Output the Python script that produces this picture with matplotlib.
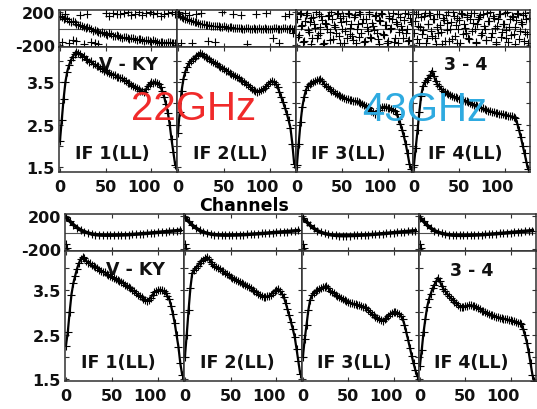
import matplotlib
matplotlib.use("Agg")
import matplotlib.pyplot as plt
import numpy as np
from matplotlib.transforms import ScaledTranslation

plt.rcParams['font.family'] = ['DejaVu Sans']

# ---------------- data ----------------
chan_amp = list(range(0, 128, 2))
chan_odd = list(range(1, 128, 2))
chan_ph = list(range(0, 128, 4))
chan_ph2 = list(range(2, 128, 4))

amp_top_if1 = [2.10, 2.60, 3.10, 3.50, 3.75, 3.90, 4.02, 4.10, 4.17, 4.22, 4.19, 4.16, 4.10, 4.12, 4.05, 4.03,
               3.98, 4.00, 3.93, 3.92, 3.88, 3.87, 3.83, 3.82, 3.77, 3.79, 3.74, 3.72, 3.70, 3.67, 3.68, 3.63,
               3.62, 3.60, 3.59, 3.55, 3.53, 3.49, 3.47, 3.44, 3.42, 3.39, 3.37, 3.33, 3.30, 3.28, 3.27, 3.33,
               3.40, 3.45, 3.50, 3.48, 3.51, 3.47, 3.45, 3.38, 3.28, 3.15, 2.98, 2.78, 2.50, 2.15, 1.85, 1.55]
amp_top_if2 = [2.30, 2.80, 3.30, 3.58, 3.75, 3.86, 3.95, 4.00, 4.05, 4.08, 4.12, 4.15, 4.19, 4.17, 4.12, 4.10,
               4.06, 4.04, 4.00, 3.98, 3.95, 3.92, 3.89, 3.86, 3.83, 3.80, 3.77, 3.76, 3.72, 3.70, 3.67, 3.65,
               3.62, 3.59, 3.56, 3.53, 3.50, 3.46, 3.43, 3.39, 3.35, 3.31, 3.28, 3.27, 3.29, 3.31, 3.33, 3.36,
               3.40, 3.45, 3.50, 3.53, 3.50, 3.46, 3.38, 3.27, 3.15, 3.03, 2.90, 2.76, 2.60, 2.42, 2.05, 1.58]
amp_top_if3 = [1.55, 2.05, 2.55, 2.92, 3.15, 3.32, 3.41, 3.45, 3.48, 3.50, 3.52, 3.54, 3.56, 3.58, 3.52, 3.46,
               3.41, 3.38, 3.34, 3.30, 3.28, 3.24, 3.22, 3.19, 3.17, 3.15, 3.12, 3.11, 3.10, 3.08, 3.08, 3.06,
               3.05, 3.05, 3.04, 3.01, 2.99, 2.96, 2.94, 2.92, 2.88, 2.83, 2.79, 2.76, 2.79, 2.84, 2.88, 2.91,
               2.92, 2.92, 2.90, 2.88, 2.87, 2.85, 2.83, 2.75, 2.64, 2.52, 2.38, 2.22, 2.04, 1.82, 1.58, 1.45]
amp_top_if4 = [1.55, 1.95, 2.36, 2.80, 3.18, 3.40, 3.50, 3.55, 3.60, 3.66, 3.77, 3.65, 3.52, 3.45, 3.40, 3.35,
               3.30, 3.27, 3.24, 3.21, 3.19, 3.18, 3.15, 3.14, 3.12, 3.11, 3.10, 3.08, 3.06, 3.05, 3.03, 3.01,
               2.99, 2.97, 2.95, 2.93, 2.91, 2.90, 2.88, 2.86, 2.84, 2.83, 2.81, 2.80, 2.79, 2.78, 2.77, 2.76,
               2.75, 2.74, 2.73, 2.72, 2.71, 2.70, 2.69, 2.68, 2.66, 2.52, 2.36, 2.20, 2.00, 1.82, 1.62, 1.45]

amp_bot_if1 = [2.25, 2.55, 3.00, 3.40, 3.65, 3.82, 3.98, 4.10, 4.20, 4.25, 4.22, 4.16, 4.12, 4.10, 4.06, 4.04,
               4.01, 4.00, 3.96, 3.94, 3.91, 3.90, 3.87, 3.84, 3.82, 3.80, 3.78, 3.75, 3.73, 3.70, 3.68, 3.66,
               3.62, 3.60, 3.57, 3.54, 3.50, 3.47, 3.43, 3.40, 3.37, 3.34, 3.31, 3.28, 3.26, 3.28, 3.33, 3.40,
               3.45, 3.48, 3.50, 3.51, 3.50, 3.47, 3.43, 3.37, 3.30, 3.15, 2.96, 2.75, 2.48, 2.22, 1.85, 1.60]
amp_bot_if2 = [2.00, 2.50, 3.05, 3.55, 3.88, 3.95, 4.00, 4.05, 4.10, 4.15, 4.18, 4.22, 4.25, 4.20, 4.14, 4.08,
               4.04, 4.02, 3.99, 3.97, 3.94, 3.92, 3.89, 3.86, 3.83, 3.80, 3.78, 3.76, 3.73, 3.71, 3.69, 3.67,
               3.64, 3.62, 3.60, 3.57, 3.54, 3.51, 3.48, 3.45, 3.42, 3.39, 3.36, 3.35, 3.35, 3.36, 3.37, 3.40,
               3.44, 3.48, 3.51, 3.53, 3.48, 3.42, 3.35, 3.22, 3.08, 2.93, 2.78, 2.62, 2.45, 2.18, 1.90, 1.62]
amp_bot_if3 = [2.00, 2.40, 2.72, 3.05, 3.28, 3.38, 3.44, 3.47, 3.50, 3.52, 3.54, 3.56, 3.58, 3.60, 3.54, 3.49,
               3.46, 3.43, 3.40, 3.37, 3.35, 3.33, 3.30, 3.28, 3.26, 3.24, 3.22, 3.20, 3.19, 3.18, 3.17, 3.16,
               3.15, 3.13, 3.12, 3.09, 3.05, 3.01, 2.97, 2.93, 2.90, 2.87, 2.84, 2.82, 2.81, 2.84, 2.88, 2.92,
               2.96, 2.99, 3.01, 3.01, 2.99, 2.96, 2.92, 2.85, 2.72, 2.55, 2.38, 2.20, 2.02, 1.85, 1.70, 1.57]
amp_bot_if4 = [1.80, 2.15, 2.55, 2.85, 3.12, 3.30, 3.42, 3.54, 3.62, 3.70, 3.78, 3.70, 3.60, 3.53, 3.47, 3.42,
               3.37, 3.32, 3.28, 3.24, 3.20, 3.16, 3.13, 3.12, 3.13, 3.14, 3.15, 3.16, 3.16, 3.15, 3.15, 3.13,
               3.10, 3.07, 3.04, 3.02, 3.00, 2.98, 2.97, 2.95, 2.93, 2.91, 2.90, 2.89, 2.88, 2.87, 2.86, 2.85,
               2.84, 2.83, 2.82, 2.81, 2.80, 2.78, 2.77, 2.76, 2.74, 2.62, 2.48, 2.32, 2.10, 1.85, 1.60, 1.45]

# phase, 22 GHz group (noisy)
ph_top_if1 = [155, 120, 115, 80, 75, 40, 35, 10, 5, -25, -30, -55, -50, -75, -70, -95,
              -90, -110, -100, -125, -115, -135, -130, -150, -140, -160, -150, -170, -160, -175, -165, -180]
ph_top_if1_c = [140, 125, 95, 85, 55, 45, 20, 20, -10, -15, -45, -40, -65, -60, -85, -80,
                -105, -100, -120, -110, -130, -125, -145, -140, -155, -145, -165, -160, -170, -165, -180, -175]
ph_top_if1_chan_b = [2, 6, 10, 14, 18, 22, 26, 30, 34, 38, 42, 50, 54, 58, 62, 66, 70, 74, 78, 82, 86,
                     90, 94, 98, 102, 106, 110, 114, 118, 122, 126]
ph_top_if1_b = [-160, 175, -175, -140, -150, 160, -185, 170, -165, -180, -190, 190, 150, 190, 175, 170,
                185, 195, 160, 175, 200, 160, 185, 200, 170, 185, 150, 170, 190, 195, 180]
ph_top_if2 = [170, 140, 120, 100, 85, 75, 60, 50, 45, 35, 30, 25, 20, 15, 20, 10,
              5, 10, 0, 5, -5, 0, 5, -10, 0, -5, 5, -10, 0, 10, -5, 0]
ph_top_if2_c = [155, 130, 110, 95, 80, 65, 55, 45, 40, 30, 25, 20, 25, 10, 15, 5,
                10, 0, 5, -5, 5, -5, 0, 5, -10, 0, 10, -5, 5, -5, 5, -10]
ph_top_if2_chan_b = [1, 3, 8, 12, 15, 20, 25, 33, 40, 48, 60, 68, 75, 85, 95, 103, 110, 116, 120, 125]
ph_top_if2_b = [200, -170, 190, 160, -180, 175, 185, -150, -160, 195, 175, 160, -185, 170, 190, -120, -175,
                150, 180, -60]
ph_top_if3 = [120, -80, 190, 40, -150, 160, -20, 80, -190, 140, 10, -110, 180, -60, 100, -170,
              60, 150, -40, 200, -130, 20, 170, -90, 130, -10, -180, 90, 190, -70, 50, -140,
              160, 0, -100, 180, 70, -160, 110, -30, 195, -120, 30, 150, -50, -190, 90, 170,
              -80, 40, -150, 130, 10, 185, -110, 60, -170, 140, -20, 100, -60, 175, -140, 80]
ph_top_if3_b = [-100, 175, 30, -160, 90, 185, -40, 130, -120, 60, 200, -80, 20, 150, -190, 70,
                -10, 165, -140, 110, 40, -60, 190, -170, 80, 150, -30, -120, 170, 10, -90, 140,
                -180, 60, 195, -50, 120, -150, 20, 180, -100, 70, -20, 160, -130, 100, 190, -70,
                40, -180, 150, -10, 110, -160, 80, 175, -40, 30, -110, 190, 0, -150, 130, 60]
ph_top_if4 = [-60, 170, 30, -180, 140, -20, 190, -120, 60, 160, -90, 110, -190, 20, 180, -40,
              130, -150, 70, 200, -10, -130, 150, 40, -170, 100, 185, -70, 10, 160, -110, 120,
              -30, 190, -160, 50, 140, -80, 175, 0, -140, 90, 195, -50, 130, -190, 30, 170,
              -100, 60, 185, -20, -160, 110, 150, -70, 20, 190, -130, 80, 160, -40, 120, -180]
ph_top_if4_b = [90, -130, 180, 20, -70, 150, -170, 60, 190, -30, 120, -110, 170, -60, 40, -190,
                100, 160, -20, -150, 80, 195, -90, 130, 0, -170, 170, 50, -50, 140, -130, 185,
                70, -10, -180, 110, 160, -60, 30, -140, 190, 90, -100, 150, 10, -160, 120, 180,
                -40, 60, -120, 195, 20, -80, 140, -190, 100, 170, -30, 50, -150, 185, -70, 130]

# phase, 43 GHz group (smooth)
ph_bot_if1 = [185, 140, 95, 60, 30, 10, -5, -18, -25, -30, -32, -33, -33, -32, -31, -30,
              -28, -26, -23, -20, -17, -13, -10, -6, -2, 2, 6, 10, 14, 18, 22, 28]
ph_bot_if2 = [185, 135, 90, 55, 25, 5, -8, -18, -25, -29, -31, -32, -32, -31, -30, -28,
              -26, -24, -21, -18, -15, -12, -9, -5, -2, 2, 5, 9, 12, 16, 20, 25]
ph_bot_if3 = [175, 130, 85, 50, 22, 2, -12, -22, -30, -35, -37, -38, -38, -37, -36, -34,
              -32, -30, -27, -24, -21, -17, -14, -10, -6, -2, 2, 6, 10, 14, 18, 22]
ph_bot_if4 = [180, 135, 88, 52, 24, 4, -10, -20, -27, -32, -34, -35, -35, -34, -33, -31,
              -29, -27, -24, -21, -18, -15, -11, -8, -4, 0, 4, 8, 12, 15, 19, 24]
ph_wrap_chan = [0, 1]
ph_wrap = [-140, -190]

if_labels = ["IF 1(LL)", "IF 2(LL)", "IF 3(LL)", "IF 4(LL)"]

# ---------------- figure ----------------
W, H = 537, 410
fig = plt.figure(figsize=(W / 100, H / 100), dpi=100)


def add_ax(x0, x1, y0, y1):
    return fig.add_axes([x0 / W, 1 - y1 / H, (x1 - x0) / W, (y1 - y0) / H])


def style(ax):
    for s in ax.spines.values():
        s.set_linewidth(1.1)
        s.set_color('#303030')
    ax.tick_params(direction='in', length=3, width=0.8, top=True, right=True,
                   labelsize=11.5, pad=3, colors='#303030', labelcolor='#111111')
    for lab in ax.get_xticklabels() + ax.get_yticklabels():
        lab.set_fontweight('bold')


mk = dict(marker='+', markersize=6, mew=0.8, color='black')
groups = [
    dict(xe=[59, 177, 296, 413, 530], ph=(11, 48), am=(48, 173), ylim=(1.38, 4.33),
         amps=[amp_top_if1, amp_top_if2, amp_top_if3, amp_top_if4], kind='top'),
    dict(xe=[65, 184, 302, 419, 536], ph=(215, 252), am=(252, 382), ylim=(1.455, 4.38),
         amps=[amp_bot_if1, amp_bot_if2, amp_bot_if3, amp_bot_if4], kind='bot'),
]

for g in groups:
    for i in range(4):
        x0, x1 = g['xe'][i], g['xe'][i + 1]
        # phase strip
        axp = add_ax(x0, x1, *g['ph'])
        axp.set_xlim(-1, 128)
        axp.set_ylim(-224, 224)
        axp.axhline(0, color='#505050', lw=0.8)
        if g['kind'] == 'top':
            if i == 0:
                axp.plot(chan_ph, ph_top_if1, ls='none', **mk)
                axp.plot(chan_ph2, ph_top_if1_c, ls='none', **mk)
                axp.plot(ph_top_if1_chan_b, ph_top_if1_b, ls='none', **mk)
            elif i == 1:
                axp.plot(chan_ph, ph_top_if2, ls='none', **mk)
                axp.plot(chan_ph2, ph_top_if2_c, ls='none', **mk)
                axp.plot(ph_top_if2_chan_b, ph_top_if2_b, ls='none', **mk)
            elif i == 2:
                axp.plot(chan_amp, ph_top_if3, ls='none', **mk)
                axp.plot(chan_odd, ph_top_if3_b, ls='none', **mk)
            else:
                axp.plot(chan_amp, ph_top_if4, ls='none', **mk)
                axp.plot(chan_odd, ph_top_if4_b, ls='none', **mk)
        else:
            phs = [ph_bot_if1, ph_bot_if2, ph_bot_if3, ph_bot_if4][i]
            axp.plot(chan_ph, phs, lw=2.5, color='black')
            axp.plot(chan_ph, phs, ls='none', **mk)
            axp.plot(ph_wrap_chan, ph_wrap, ls='none', **mk)
        axp.set_xticks([0, 50, 100])
        axp.set_xticklabels([])
        axp.set_yticks([-200, 200])
        if i == 0:
            axp.set_yticklabels(['-200', '200'])
        else:
            axp.set_yticklabels([])
        style(axp)

        # amplitude panel
        axa = add_ax(x0, x1, *g['am'])
        axa.set_xlim(-1, 128)
        axa.set_ylim(*g['ylim'])
        axa.plot(chan_amp, g['amps'][i], lw=1.6, **mk)
        axa.set_xticks([0, 50, 100])
        axa.set_xticklabels(['0', '50', '100'])
        axa.set_yticks([1.5, 2.0, 2.5, 3.0, 3.5, 4.0])
        if i == 0:
            axa.set_yticklabels(['1.5', '', '2.5', '', '3.5', ''])
        else:
            axa.set_yticklabels([])
        style(axa)
        axa.tick_params(axis='x', labelsize=11.5, pad=5)
        for lab in axa.get_xticklabels():
            lab.set_fontweight('bold')
            if lab.get_text() == '100':
                lab.set_transform(lab.get_transform() + ScaledTranslation(-8 / 100, 0, fig.dpi_scale_trans))
        axa.text(0.45, 0.15, if_labels[i], transform=axa.transAxes, ha='center', va='center',
                 fontsize=12.5, fontweight='bold', color='#111111', zorder=5)
        if i == 0:
            axa.text(0.59, 0.86, "V - KY", transform=axa.transAxes, ha='center', va='center',
                     fontsize=12.5, fontweight='bold', color='#111111', zorder=1)
        if i == 3:
            axa.text(0.45, 0.86 if g['kind'] == 'top' else 0.85, "3 - 4", transform=axa.transAxes,
                     ha='center', va='center', fontsize=12.5, fontweight='bold', color='#111111', zorder=1)

fig.text(244 / W, 1 - 206 / H, "Channels", ha='center', va='center', fontsize=12.5, fontweight='bold')
fig.text(194 / W, 1 - 109 / H, "22GHz", ha='center', va='center', fontsize=29, color='#f02a2a',
         family='Liberation Sans', zorder=10)
fig.text(425 / W, 1 - 110 / H, "43GHz", ha='center', va='center', fontsize=29, color='#2eaae0',
         family='Liberation Sans', zorder=10)

fig.savefig("out.png", dpi=100)
